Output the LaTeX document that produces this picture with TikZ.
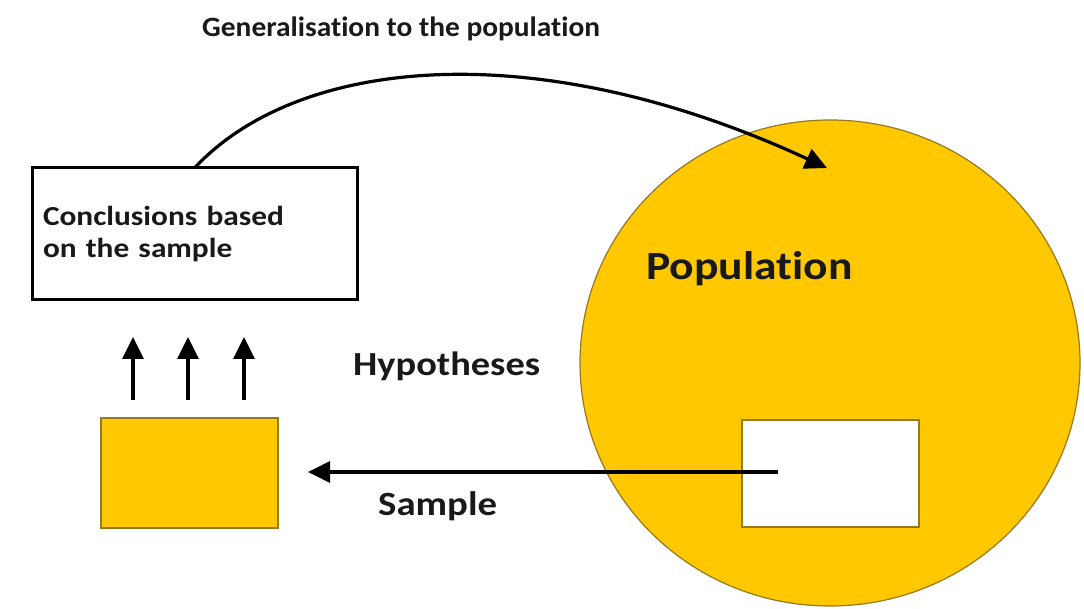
\documentclass[tikz,border=0pt]{standalone}
\usepackage{fontspec}
\setmainfont[Ligatures=NoCommon]{Carlito}
\newfontfamily\widefont[FakeStretch=1.14,Ligatures=NoCommon]{Carlito}
\newfontfamily\titlefont[FakeStretch=1.05,Ligatures=NoCommon]{Carlito}
\usetikzlibrary{arrows.meta,shapes.geometric,calc}
\definecolor{gold}{RGB}{255,200,0}
\definecolor{goldedge}{RGB}{150,120,30}
\definecolor{ink}{RGB}{25,25,25}
\tikzset{
  lbl/.style={inner sep=0pt, text=ink},
  arr/.style={draw=black, line width=3.2pt, -{Triangle[length=22pt,width=21pt]}},
  goldbox/.style={draw=goldedge, line width=1.2pt, fill=gold, inner sep=0pt, outer sep=0pt},
}
\begin{document}
\begin{tikzpicture}[x=1pt,y=-1pt]
\useasboundingbox (0,0) rectangle (1084,609);
% population
\node[goldbox, ellipse, minimum width=500pt, minimum height=486pt] (pop) at (830,363) {};
\node[draw=goldedge, line width=1.2pt, fill=white, minimum width=177pt, minimum height=107pt, inner sep=0pt] (inner) at (830.5,473.5) {};
\node[lbl, font=\widefont\bfseries\fontsize{40}{44}\selectfont, anchor=base west] (poplbl) at (646,280) {Population};
% sample box
\node[goldbox, minimum width=177pt, minimum height=110pt] (smp) at (189.5,473) {};
% conclusions box
\node[draw=black, line width=3pt, fill=white, minimum width=325pt, minimum height=132pt, text width=303pt, inner xsep=11pt, align=left, font=\widefont\bfseries\fontsize{27.5}{32}\selectfont, text=ink, outer sep=0pt] (concl) at (194.5,234) {Conclusions based\\on the sample};
% labels
\node[lbl, font=\titlefont\bfseries\fontsize{28}{32}\selectfont, anchor=base west] (title) at (202,37) {Generalisation to the population};
\node[lbl, font=\widefont\bfseries\fontsize{33.7}{38}\selectfont, anchor=base west] (hyp) at (353,376) {Hypotheses};
\node[lbl, font=\widefont\bfseries\fontsize{34}{38}\selectfont, anchor=base west] (samp) at (378,515) {Sample};
% coordinates
\coordinate (gentip) at (827,168);
\coordinate (sstart) at (778,472);
\coordinate (send) at (308,472);
\foreach \i/\x in {1/133,2/188,3/244}{
  \coordinate (ub\i) at (\x,400);
  \coordinate (ut\i) at (\x,337);
}
% connectors
\draw[arr] (concl.north) .. controls (300,55) and (540,35) .. (gentip);
\draw[arr] (sstart) -- (send);
\foreach \i in {1,2,3}{\draw[arr] (ub\i) -- (ut\i);}
\end{tikzpicture}
\end{document}
